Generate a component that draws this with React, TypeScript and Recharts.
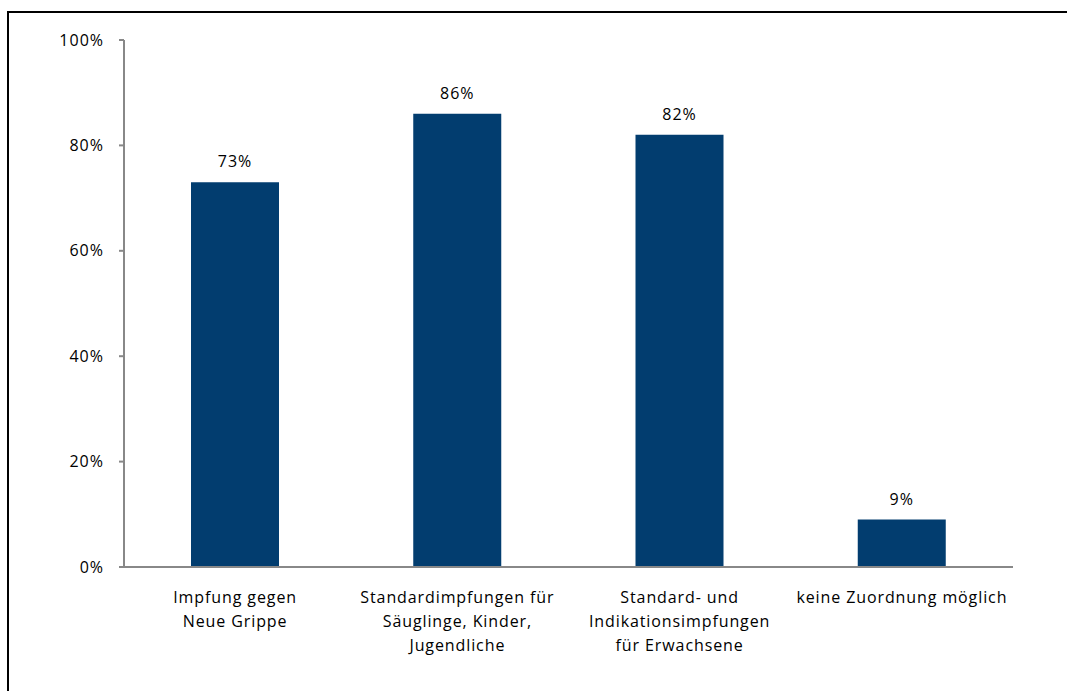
import React from "react";
import { BarChart, Bar, XAxis, YAxis, LabelList } from "recharts";

const categories: string[][] = [
  ["Impfung gegen", "Neue Grippe"],
  ["Standardimpfungen für", "Säuglinge, Kinder,", "Jugendliche"],
  ["Standard- und", "Indikationsimpfungen", "für Erwachsene"],
  ["keine Zuordnung möglich"],
];
const values: number[] = [73, 86, 82, 9];
const yTicks: number[] = [0, 20, 40, 60, 80, 100];

const data = categories.map((c, i) => ({ name: c.join("\n"), value: values[i] }));

const FONT = "'Open Sans', sans-serif";

const CatTick = (props: any) => {
  const { x, y, payload } = props;
  const lines: string[] = String(payload.value).split("\n");
  return (
    <text x={x} y={y} textAnchor="middle" fontFamily={FONT} fontSize={16} fill="#000" letterSpacing={0.9}>
      {lines.map((l, i) => (
        <tspan key={i} x={x} y={y + 28 + i * 24}>
          {l}
        </tspan>
      ))}
    </text>
  );
};

export default function App() {
  return (
    <div
      style={{
        position: "absolute",
        left: 7,
        top: 11,
        width: 1060,
        height: 680,
        borderTop: "2px solid #000",
        borderLeft: "2px solid #000",
        boxSizing: "border-box",
        background: "#fff",
        overflow: "hidden",
      }}
    >
      <div style={{ position: "absolute", left: 0, top: 0 }}>
        <BarChart
          width={1050}
          height={670}
          data={data}
          margin={{ top: 27, right: 46, bottom: 16, left: 0 }}
          barCategoryGap="30%"
        >
          <XAxis
            dataKey="name"
            interval={0}
            tickLine={false}
            axisLine={{ stroke: "#888", strokeWidth: 2 }}
            height={100}
            tick={<CatTick />}
          />
          <YAxis
            width={115}
            domain={[0, 100]}
            ticks={yTicks}
            tickFormatter={(v: number) => `${v}%`}
            tickSize={5}
            tickMargin={15}
            axisLine={{ stroke: "#888", strokeWidth: 2 }}
            tickLine={{ stroke: "#888", strokeWidth: 2 }}
            tick={{ fill: "#000", fontSize: 16, fontFamily: FONT, letterSpacing: 1 }}
          />
          <Bar dataKey="value" fill="#023d6f" barSize={88} isAnimationActive={false}>
            <LabelList
              dataKey="value"
              position="top"
              offset={15}
              formatter={(v: number) => `${v}%`}
              style={{ fill: "#000", fontSize: 16, fontFamily: FONT, letterSpacing: 1 }}
            />
          </Bar>
        </BarChart>
      </div>
    </div>
  );
}
